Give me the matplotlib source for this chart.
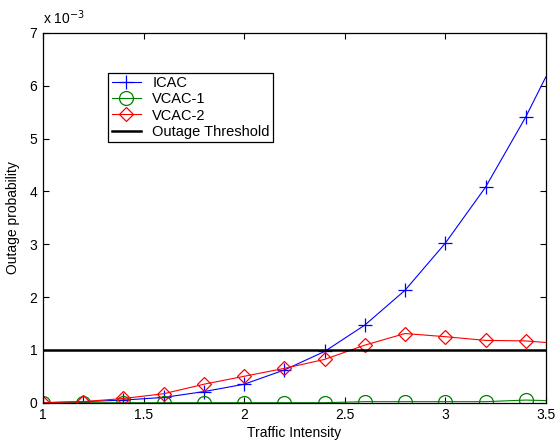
import matplotlib
matplotlib.use('Agg')
import matplotlib.pyplot as plt

plt.rcParams['font.family'] = ['Liberation Sans', 'DejaVu Sans']

# traffic intensity (last point 3.5 is line end only, no marker)
traffic = [1.0, 1.2, 1.4, 1.6, 1.8, 2.0, 2.2, 2.4, 2.6, 2.8, 3.0, 3.2, 3.4, 3.5]
# outage probability, in units of 1e-3
icac = [0.0, 0.02, 0.05, 0.10, 0.21, 0.35, 0.62, 0.97, 1.47, 2.13, 3.02, 4.08, 5.41, 6.17]
vcac1 = [0.0, 0.0, 0.0, 0.0, 0.0, 0.0, 0.0, 0.0, 0.02, 0.02, 0.02, 0.02, 0.05, 0.04]
vcac2 = [0.0, 0.02, 0.08, 0.17, 0.35, 0.50, 0.65, 0.82, 1.09, 1.31, 1.25, 1.18, 1.17, 1.14]
threshold = 1.0

fs = 10

fig = plt.figure(figsize=(5.57, 4.44), dpi=100)
ax = fig.add_axes([0.0772, 0.093, 0.9028, 0.8327])

marks = list(range(13))
ax.plot(traffic, icac, color='blue', lw=0.8, marker='+', ms=10, mew=0.9,
        markevery=marks, label='ICAC')
ax.plot(traffic, vcac1, color='#008000', lw=0.8, marker='o', ms=10, mew=0.9,
        mfc='none', markevery=marks, label='VCAC-1')
ax.plot(traffic, vcac2, color='red', lw=0.8, marker='D', ms=7.5, mew=0.9,
        mfc='none', markevery=marks, label='VCAC-2')
ax.plot([1, 3.5], [threshold, threshold], color='black', lw=1.8,
        label='Outage Threshold')

ax.set_xlim(1, 3.5)
ax.set_ylim(0, 7)
ax.set_xticks([1, 1.5, 2, 2.5, 3, 3.5])
ax.set_xticklabels(['1', '1.5', '2', '2.5', '3', '3.5'])
ax.set_yticks(range(8))
ax.tick_params(direction='in', top=True, right=True, labelsize=fs,
               length=4, width=0.8, pad=4)
for s in ax.spines.values():
    s.set_linewidth(0.9)

ax.set_xlabel('Traffic Intensity', fontsize=fs, labelpad=3)
ax.set_ylabel('Outage probability', fontsize=fs, labelpad=7)
ax.text(0.0, 1.015, r'x 10$^{-3}$', transform=ax.transAxes, fontsize=fs,
        ha='left', va='bottom')

leg = ax.legend(loc='upper left', bbox_to_anchor=(0.129, 0.893), fontsize=10.5,
                fancybox=False, framealpha=1, edgecolor='black',
                handlelength=2.0, borderpad=0.25, labelspacing=0.15,
                handletextpad=0.8, borderaxespad=0)
leg.get_frame().set_linewidth(0.9)

fig.savefig('out.png', dpi=100)
